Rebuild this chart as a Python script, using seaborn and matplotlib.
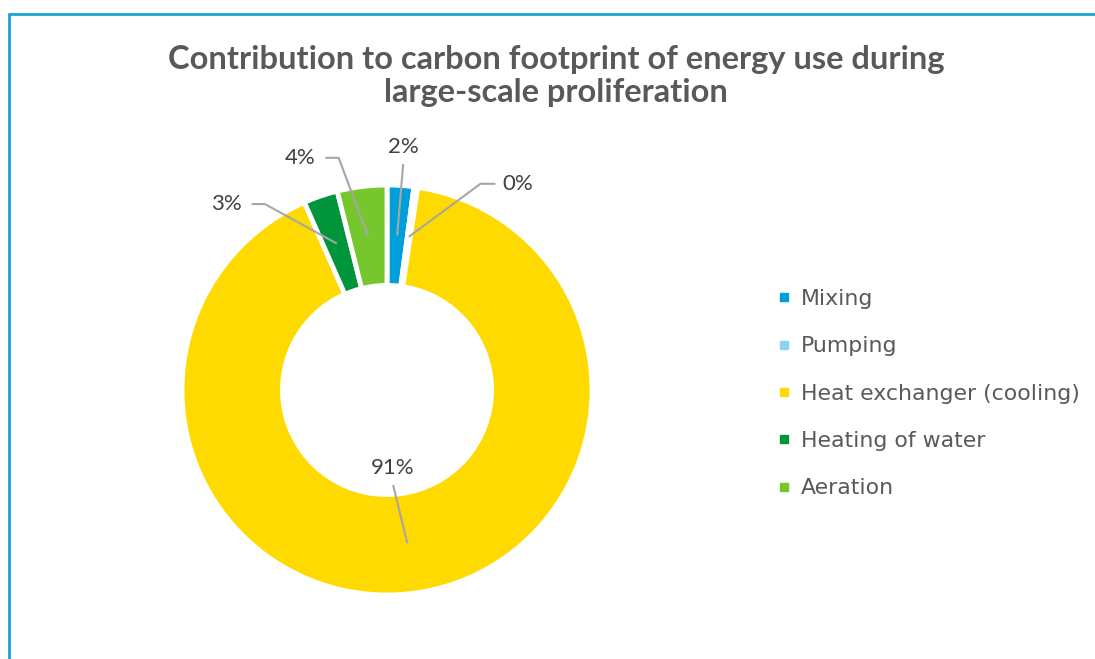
import numpy as np
import matplotlib
matplotlib.use("Agg")
import matplotlib.pyplot as plt
import seaborn as sns
from matplotlib.lines import Line2D

# Dữ liệu
categories = ["Mixing", "Pumping", "Heat exchanger (cooling)", "Heating of water", "Aeration"]
shares = [2.1, 0.3, 91.0, 2.7, 3.9]
pct_labels = ["2%", "0%", "91%", "3%", "4%"]
colors = ["#009FDA", "#8DD3F7", "#FFDA00", "#00953A", "#76C62E"]

# Vị trí nhãn (góc, bán kính) và kiểu đường dẫn
label_angle = [86.2, 57.7, -85.5, 130.9, 110.6]
label_radius = [1.19, 1.19, 0.38, 1.20, 1.21]
label_style = ["straight", "right", "straight", "left", "left"]

sns.set_theme(style="white")
plt.rcParams["font.family"] = ["DejaVu Sans"]

fig = plt.figure(figsize=(10.95, 6.59), dpi=100)
W, H = 1095, 659
cx, cy, R = 387, 390, 205
ax = fig.add_axes([(cx - R) / W, (H - cy - R) / H, 2 * R / W, 2 * R / H])

wedges, _ = ax.pie(shares, colors=colors, startangle=90, counterclock=False,
                   radius=1.0, wedgeprops=dict(width=0.49, edgecolor="white", linewidth=3.5))
ax.set_xlim(-1, 1)
ax.set_ylim(-1, 1)
ax.set_aspect("equal")
ax.axis("off")

# Nhãn phần trăm + đường dẫn
for w, lab, ang, rad, style in zip(wedges, pct_labels, label_angle, label_radius, label_style):
    mid = np.deg2rad((w.theta1 + w.theta2) / 2)
    ax0, ay0 = 0.755 * np.cos(mid), 0.755 * np.sin(mid)
    tx, ty = rad * np.cos(np.deg2rad(ang)), rad * np.sin(np.deg2rad(ang))
    ax.text(tx, ty, lab, ha="center", va="center", fontsize=16, color="#404040",
            family="Lato", clip_on=False)
    if style == "straight":
        xs, ys = [ax0, tx], [ay0, ty - 0.085]
    elif style == "right":
        xs, ys = [ax0, tx - 0.18, tx - 0.107], [ay0, ty, ty]
    else:
        xs, ys = [ax0, tx + 0.19, tx + 0.125], [ay0, ty, ty]
    ax.plot(xs, ys, color="#A6A6A6", lw=1.5, clip_on=False, solid_capstyle="butt")

# Tiêu đề
fig.text(0.508, 1 - 76 / H, "Contribution to carbon footprint of energy use during\nlarge-scale proliferation",
         ha="center", va="center", fontsize=23.5, fontweight="bold", color="#595959",
         family="Lato", linespacing=1.17)

# Chú thích
handles = [Line2D([0], [0], marker="s", linestyle="", markersize=6, markerfacecolor=c,
                  markeredgecolor=c) for c in colors]
leg = fig.legend(handles, categories, loc="upper left", bbox_to_anchor=(769 / W, 1 - 280 / H),
                 frameon=False, fontsize=15.8, labelcolor="#595959", handlelength=0.6,
                 handletextpad=0.45, labelspacing=1.25, borderaxespad=0)

# Khung viền xanh
fig.add_artist(Line2D([8.5 / W, 8.5 / W], [0, 1 - 13.5 / H], color="#1AA3DB", lw=2, transform=fig.transFigure))
fig.add_artist(Line2D([8.5 / W, 1], [1 - 13.5 / H, 1 - 13.5 / H], color="#1AA3DB", lw=2, transform=fig.transFigure))

fig.savefig("out.png", dpi=100)
